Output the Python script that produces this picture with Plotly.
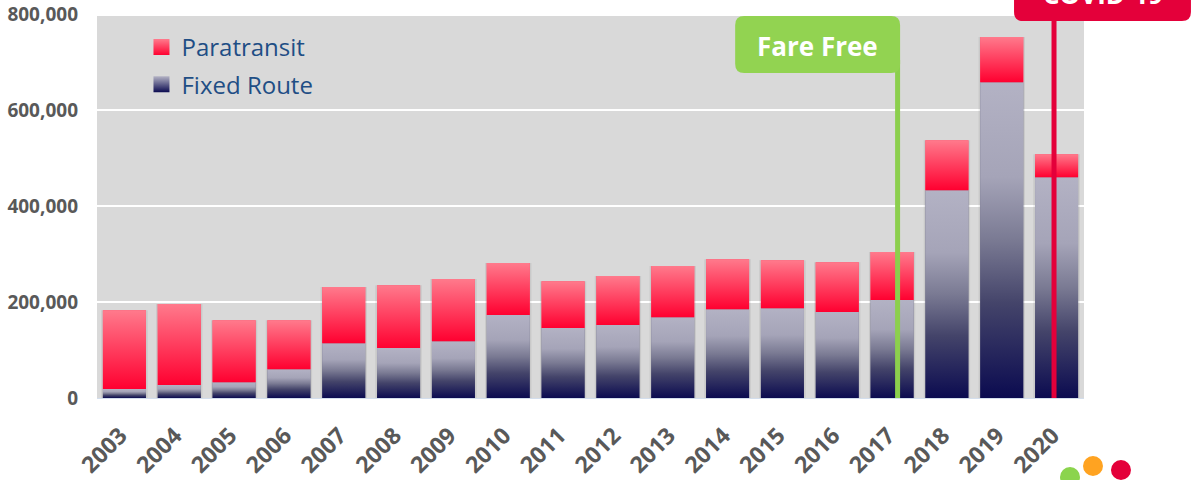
import plotly.graph_objects as go

years = [2003, 2004, 2005, 2006, 2007, 2008, 2009, 2010, 2011, 2012, 2013, 2014, 2015, 2016, 2017, 2018, 2019, 2020]
fixed_route = [18750, 27000, 33000, 60000, 114000, 104000, 118000, 173000, 146000, 152000, 168000, 185000, 187000, 179000, 204000, 433000, 658000, 460000]
paratransit = [164250, 169000, 129000, 102000, 117000, 131000, 130000, 108000, 97000, 102000, 107000, 104000, 100000, 104000, 100000, 104000, 94000, 48000]
y_ticks = [0, 200000, 400000, 600000, 800000]

W, H = 1191, 480
L, R, T, B = 96.5, 1084, 14, 398
BAR_W = 0.785
FIXED_SCALE = [[0, "#0b0b50"], [0.3, "#44446a"], [0.5, "#7a7a93"], [0.7, "#a5a4b8"], [1, "#b3b2c4"]]
PARA_SCALE = [[0, "#ff0030"], [1, "#ff7a8c"]]

def px_x(p):
    return (p - L) / (R - L)

def px_y(p):
    return (B - p) / (B - T)

def year_at(p):
    return years[0] - 0.5 + (p - L) / (R - L) * len(years)

def rounded(x0, y0, x1, y1, r):
    a, b, c, d = px_x(x0), px_x(x1), px_y(y0), px_y(y1)
    rx, ry = r / (R - L), r / (B - T)
    return (f"M{a+rx},{c} L{b-rx},{c} Q{b},{c} {b},{c-ry} L{b},{d+ry} Q{b},{d} {b-rx},{d} "
            f"L{a+rx},{d} Q{a},{d} {a},{d+ry} L{a},{c-ry} Q{a},{c} {a+rx},{c} Z")

totals = [f + p for f, p in zip(fixed_route, paratransit)]

fig = go.Figure()

# soft shadow: a slightly wider translucent bar behind each stack
fig.add_trace(go.Bar(x=years, y=totals, width=BAR_W + 0.06, marker=dict(color="rgba(90,90,90,0.13)", line=dict(width=0)),
                     showlegend=False, hoverinfo="skip"))
# real bars
fig.add_trace(go.Bar(x=years, y=fixed_route, width=BAR_W, marker=dict(color="#66667f", line=dict(width=0)), showlegend=False, hoverinfo="skip"))
fig.add_trace(go.Bar(x=years, y=paratransit, base=fixed_route, width=BAR_W, marker=dict(color="#ff4060", line=dict(width=0)), showlegend=False, hoverinfo="skip"))

# vertical gradient skins over each bar segment
h = BAR_W / 2
for yr, f, p in zip(years, fixed_route, paratransit):
    for lo, hi, scale in ((0, f, FIXED_SCALE), (f, f + p, PARA_SCALE)):
        fig.add_trace(go.Scatter(
            x=[yr - h, yr - h, yr + h, yr + h, yr - h], y=[lo, hi, hi, lo, lo],
            mode="lines", line=dict(width=0), fill="toself",
            fillgradient=dict(type="vertical", colorscale=scale),
            showlegend=False, hoverinfo="skip"))

# legend entries
fig.add_trace(go.Scatter(x=[None], y=[None], mode="markers", name="Paratransit", legendgroup="p",
                         marker=dict(symbol="square", size=16, color="#ff7a8c", gradient=dict(type="vertical", color="#ff0030"))))
fig.add_trace(go.Scatter(x=[None], y=[None], mode="markers", name="Fixed Route", legendgroup="f",
                         marker=dict(symbol="square", size=16, color="#b3b2c4", gradient=dict(type="vertical", color="#0b0b50"))))

GREEN, RED = "#8ccf4d", "#e4003a"
shapes = [
    dict(type="rect", xref="paper", yref="paper", x0=0, x1=1, y0=px_y(16), y1=px_y(13), fillcolor="white", line=dict(width=0)),
    dict(type="line", xref="x", yref="paper", x0=year_at(897.5), x1=year_at(897.5), y0=0, y1=px_y(60), line=dict(color=GREEN, width=5)),
    dict(type="path", xref="paper", yref="paper", path=rounded(735, 16, 900, 73, 9), fillcolor="#92d351", line=dict(width=0)),
    dict(type="line", xref="x", yref="paper", x0=year_at(1054), x1=year_at(1054), y0=0, y1=px_y(15), line=dict(color=RED, width=5)),
    dict(type="path", xref="paper", yref="paper", path=rounded(1014, -20, 1191, 21, 9), fillcolor=RED, line=dict(width=0)),
]
for cx, cy, col in ((1070, 477, "#8bd44d"), (1093, 466, "#ffa321"), (1121, 470, RED)):
    shapes.append(dict(type="circle", xref="paper", yref="paper", x0=px_x(cx - 10), x1=px_x(cx + 10),
                       y0=px_y(cy + 10), y1=px_y(cy - 10), fillcolor=col, line=dict(width=0)))

FONT = "Open Sans"
annotations = [
    dict(xref="paper", yref="paper", x=px_x(817), y=px_y(46), xanchor="center", yanchor="middle",
         text="<b>Fare Free</b>", showarrow=False, font=dict(family=FONT, size=26, color="white")),
    dict(xref="paper", yref="paper", x=px_x(1103), y=px_y(-6), xanchor="center", yanchor="middle",
         text="<b>COVID-19</b>", showarrow=False, font=dict(family=FONT, size=26, color="white")),
]

fig.update_layout(
    width=W, height=H, barmode="overlay", plot_bgcolor="#d9d9d9", paper_bgcolor="white",
    margin=dict(l=L, r=W - R, t=T, b=H - B, pad=0, autoexpand=False),
    shapes=shapes, annotations=annotations,
    font=dict(family=FONT),
    legend=dict(x=px_x(141), y=px_y(25), xanchor="left", yanchor="top", bgcolor="rgba(0,0,0,0)",
                traceorder="grouped", tracegroupgap=3, itemwidth=30,
                font=dict(family=FONT, size=24, color="#1f4e85")),
    xaxis=dict(range=[years[0] - 0.5, years[-1] + 0.5], tickvals=years, ticktext=[str(y) for y in years],
               tickangle=-45, showgrid=False, zeroline=False, showline=True, linecolor="#d3deed", linewidth=1,
               ticks="", ticklabelstandoff=14, ticklabelshift=-4,
               tickfont=dict(family=FONT, size=23, color="#595959", weight="bold")),
    yaxis=dict(range=[0, 800000], tickvals=y_ticks, tickformat=",d", gridcolor="white", gridwidth=2,
               zeroline=False, showline=False, ticks="", ticklabelstandoff=18,
               tickfont=dict(family=FONT, size=19, color="#595959", weight="bold")),
)

fig.write_html("out.html", config=dict(displayModeBar=False), post_script="document.body.style.margin='0';")
